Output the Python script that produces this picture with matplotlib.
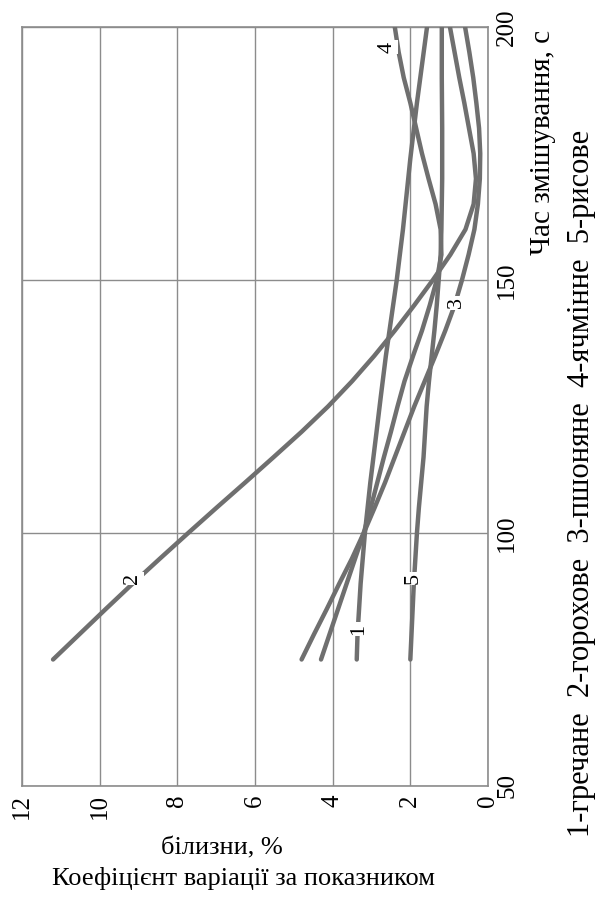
import matplotlib
matplotlib.use("Agg")
import matplotlib.pyplot as plt

plt.rcParams['font.family'] = ['Liberation Serif', 'DejaVu Serif']

# ---- data (time, s) vs coefficient of variation (%) ----
t1 = [75, 80, 90, 100, 110, 120, 127, 135, 150, 160, 174, 185, 200]
v1 = [3.38, 3.36, 3.28, 3.17, 3.03, 2.87, 2.76, 2.63, 2.35, 2.19, 2.0, 1.83, 1.57]

t2 = [75, 80, 85, 90, 95, 100, 105, 110, 115, 120, 125, 130, 135, 140, 145,
      150, 155, 160, 165, 170, 175, 180, 185, 190, 195, 200]
v2 = [11.2, 10.52, 9.84, 9.15, 8.44, 7.72, 6.99, 6.25, 5.52, 4.8, 4.12, 3.5, 2.93, 2.4, 1.9,
      1.42, 0.97, 0.58, 0.37, 0.31, 0.37, 0.49, 0.61, 0.74, 0.86, 0.98]

t3 = [75, 80, 85, 90, 95, 100, 105, 110, 115, 120, 125, 130, 135, 140, 145,
      150, 155, 160, 165, 170, 175, 180, 185, 190, 195, 200]
v3 = [4.8, 4.48, 4.15, 3.83, 3.5, 3.2, 2.92, 2.65, 2.4, 2.15, 1.9, 1.63, 1.36, 1.1, 0.86,
      0.67, 0.5, 0.35, 0.26, 0.21, 0.2, 0.23, 0.3, 0.38, 0.48, 0.59]

t4 = [75, 80, 85, 90, 95, 100, 105, 110, 115, 120, 125, 130, 135, 140, 145,
      150, 155, 160, 165, 170, 175, 180, 185, 190, 195, 200]
v4 = [4.3, 4.08, 3.86, 3.64, 3.42, 3.2, 3.02, 2.85, 2.68, 2.5, 2.33, 2.15, 1.93, 1.7, 1.5,
      1.32, 1.2, 1.22, 1.35, 1.53, 1.7, 1.85, 2.0, 2.17, 2.3, 2.4]

t5 = [75, 80, 85, 90, 95, 100, 105, 110, 115, 120, 125, 130, 135, 140, 145,
      150, 155, 160, 170, 180, 190, 200]
v5 = [2.0, 1.97, 1.94, 1.91, 1.87, 1.83, 1.78, 1.72, 1.66, 1.62, 1.58, 1.52, 1.45, 1.38, 1.32,
      1.27, 1.22, 1.2, 1.18, 1.18, 1.19, 1.19]

curve_labels = ["1", "2", "3", "4", "5"]
label_pos_t = [81, 91, 145.5, 196, 91]
label_pos_v = [3.33, 9.15, 0.82, 2.6, 1.92]

x_ticks = [0, 2, 4, 6, 8, 10, 12]
t_ticks = [50, 100, 150, 200]

legend_text = "1-гречане  2-горохове  3-пшоняне  4-ячмінне  5-рисове"
time_label = "Час змішування, с"
ylabel_line1 = "Коефіцієнт варіації за показником"
ylabel_line2 = "білизни, %"

W, H = 603, 902
fig = plt.figure(figsize=(W / 100, H / 100), dpi=100)
ax = fig.add_axes([22 / W, 1 - 786 / H, (488 - 22) / W, (786 - 27) / H])

line_color = '#6f6f6f'
grid_color = '#8c8c8c'

for t, v in [(t1, v1), (t2, v2), (t3, v3), (t4, v4), (t5, v5)]:
    ax.plot(v, t, color=line_color, lw=3.2, solid_capstyle='round',
            solid_joinstyle='round', zorder=3)

for lab, lt, lv in zip(curve_labels, label_pos_t, label_pos_v):
    ax.text(lv, lt, lab, rotation=90, ha='center', va='center', fontsize=16,
            zorder=5, bbox=dict(facecolor='white', edgecolor='none', pad=1.0))

ax.set_xlim(12, 0)
ax.set_ylim(50, 200)
ax.set_xticks(x_ticks)
ax.set_xticklabels([str(x) for x in x_ticks], rotation=90, fontsize=18)
ax.yaxis.tick_right()
ax.set_yticks(t_ticks)
ax.set_yticklabels([str(t) for t in t_ticks], rotation=90, fontsize=18, va='center')
ax.tick_params(length=0, pad=6)
ax.grid(True, color=grid_color, lw=1.0, zorder=1)
for s in ax.spines.values():
    s.set_color(grid_color)
    s.set_linewidth(1.2)

fig.text(543 / W, 1 - 142 / H, time_label, rotation=90, ha='center', va='center', fontsize=21)
fig.text(581 / W, 1 - 483 / H, legend_text, rotation=90, ha='center', va='center', fontsize=22)
fig.text(222 / W, 1 - 848 / H, ylabel_line2, ha='center', va='center', fontsize=19)
fig.text(243 / W, 1 - 879 / H, ylabel_line1, ha='center', va='center', fontsize=19)

fig.savefig("out.png", dpi=100)
